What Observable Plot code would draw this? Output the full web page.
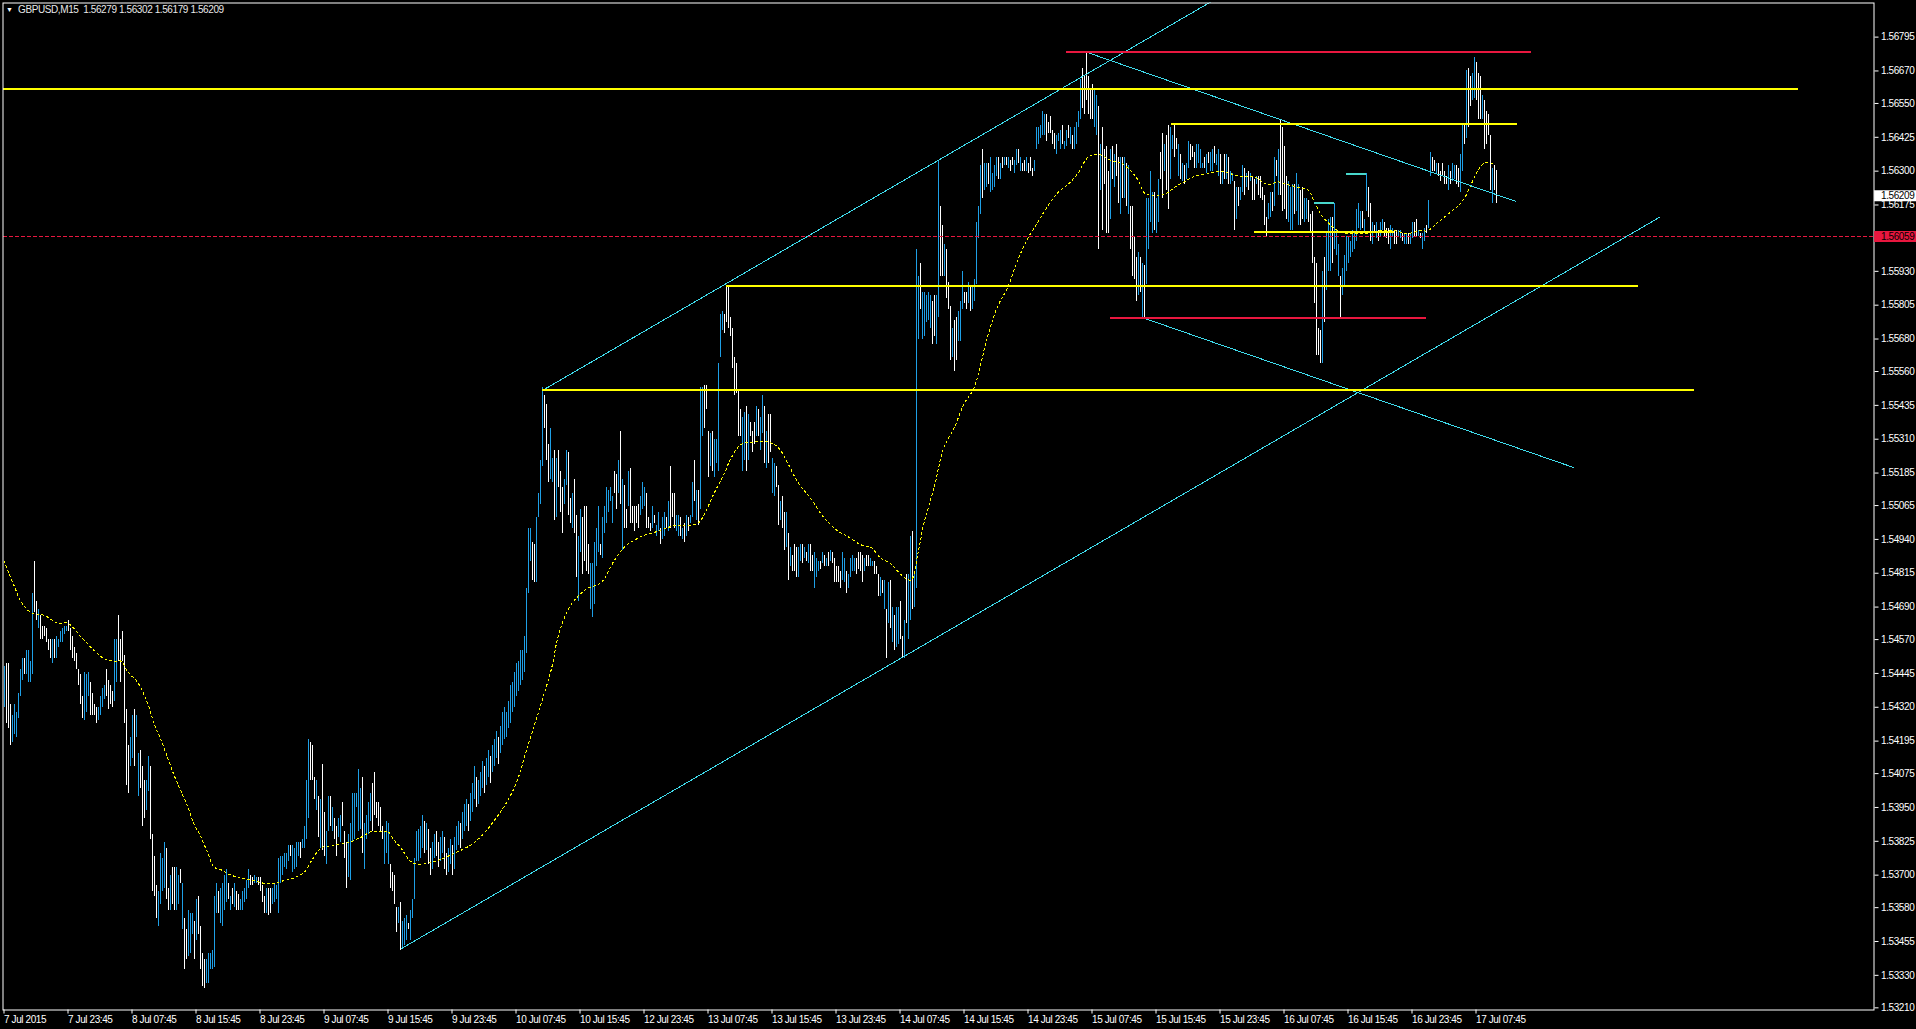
<!DOCTYPE html>
<html><head><meta charset="utf-8">
<script src="https://cdn.jsdelivr.net/npm/d3@7"></script>
<script src="https://cdn.jsdelivr.net/npm/@observablehq/plot@0.6"></script>
<style>
html,body{margin:0;padding:0;background:#000;overflow:hidden;}
#chart svg text{letter-spacing:-0.4px;}
</style></head><body><div id="chart"></div>
<script>
// ---- data (GBPUSD M15, bar index 0 = 7 Jul 2015 15:45) ----
const symbol = "GBPUSD,M15";
const lastOHLC = [1.56279, 1.56302, 1.56179, 1.56209];
const markLevel = 1.56059;

const highs = [
1.5447,1.5448,1.5448,1.5433,1.5429,1.5433,1.5430,1.5437,1.5446,1.5450,
1.5450,1.5453,1.5453,1.5449,1.5474,1.5486,1.5471,1.5468,1.5466,1.5462,
1.5462,1.5461,1.5457,1.5457,1.5457,1.5457,1.5458,1.5457,1.5460,1.5461,
1.5462,1.5462,1.5464,1.5461,1.5458,1.5454,1.5452,1.5446,1.5444,1.5436,
1.5445,1.5444,1.5445,1.5441,1.5437,1.5433,1.5432,1.5432,1.5436,1.5439,
1.5440,1.5446,1.5442,1.5440,1.5438,1.5457,1.5457,1.5466,1.5457,1.5460,
1.5451,1.5431,1.5418,1.5421,1.5429,1.5431,1.5429,1.5415,1.5416,1.5410,
1.5405,1.5405,1.5414,1.5410,1.5385,1.5377,1.5366,1.5364,1.5378,1.5376,
1.5382,1.5380,1.5365,1.5370,1.5373,1.5373,1.5373,1.5370,1.5372,1.5367,
1.5354,1.5350,1.5357,1.5356,1.5356,1.5353,1.5361,1.5362,1.5351,1.5341,
1.5339,1.5339,1.5341,1.5341,1.5342,1.5362,1.5367,1.5364,1.5365,1.5367,
1.5370,1.5372,1.5367,1.5362,1.5365,1.5367,1.5364,1.5363,1.5361,1.5364,
1.5365,1.5368,1.5372,1.5370,1.5369,1.5370,1.5369,1.5369,1.5369,1.5366,
1.5362,1.5365,1.5365,1.5365,1.5365,1.5367,1.5366,1.5376,1.5377,1.5377,
1.5378,1.5378,1.5381,1.5381,1.5381,1.5380,1.5382,1.5382,1.5382,1.5383,
1.5388,1.5405,1.5420,1.5419,1.5418,1.5406,1.5405,1.5399,1.5398,1.5411,
1.5393,1.5386,1.5399,1.5399,1.5395,1.5391,1.5388,1.5391,1.5392,1.5397,
1.5386,1.5382,1.5385,1.5389,1.5400,1.5400,1.5400,1.5409,1.5402,1.5406,
1.5389,1.5392,1.5397,1.5400,1.5404,1.5408,1.5397,1.5397,1.5395,1.5388,
1.5386,1.5390,1.5389,1.5374,1.5371,1.5370,1.5358,1.5358,1.5360,1.5353,
1.5354,1.5355,1.5352,1.5357,1.5361,1.5376,1.5386,1.5387,1.5388,1.5392,
1.5390,1.5389,1.5387,1.5380,1.5382,1.5385,1.5386,1.5382,1.5384,1.5386,
1.5384,1.5378,1.5380,1.5383,1.5381,1.5384,1.5388,1.5390,1.5389,1.5393,
1.5396,1.5398,1.5396,1.5400,1.5404,1.5410,1.5406,1.5405,1.5408,1.5412,
1.5410,1.5413,1.5416,1.5414,1.5418,1.5420,1.5423,1.5421,1.5425,1.5430,
1.5432,1.5430,1.5434,1.5440,1.5441,1.5445,1.5448,1.5449,1.5453,1.5453,
1.5458,1.5476,1.5498,1.5498,1.5493,1.5492,1.5502,1.5511,1.5523,1.5550,
1.5547,1.5544,1.5529,1.5535,1.5524,1.5527,1.5524,1.5527,1.5519,1.5513,
1.5516,1.5527,1.5526,1.5509,1.5511,1.5516,1.5503,1.5495,1.5505,1.5502,
1.5506,1.5506,1.5492,1.5485,1.5485,1.5493,1.5498,1.5506,1.5492,1.5502,
1.5506,1.5513,1.5512,1.5513,1.5510,1.5519,1.5518,1.5523,1.5534,1.5516,
1.5514,1.5505,1.5519,1.5520,1.5506,1.5506,1.5506,1.5507,1.5510,1.5515,
1.5513,1.5511,1.5502,1.5500,1.5506,1.5503,1.5499,1.5504,1.5498,1.5502,
1.5504,1.5502,1.5508,1.5521,1.5511,1.5511,1.5503,1.5503,1.5502,1.5498,
1.5500,1.5503,1.5502,1.5503,1.5515,1.5523,1.5512,1.5512,1.5550,1.5550,
1.5551,1.5551,1.5534,1.5533,1.5534,1.5531,1.5531,1.5559,1.5577,1.5578,
1.5577,1.5587,1.5587,1.5576,1.5572,1.5561,1.5559,1.5549,1.5542,1.5539,
1.5541,1.5543,1.5540,1.5537,1.5534,1.5537,1.5543,1.5542,1.5539,1.5547,
1.5543,1.5534,1.5540,1.5540,1.5524,1.5522,1.5521,1.5514,1.5508,1.5510,
1.5504,1.5504,1.5496,1.5491,1.5488,1.5492,1.5491,1.5491,1.5492,1.5492,
1.5491,1.5489,1.5492,1.5492,1.5488,1.5489,1.5487,1.5486,1.5486,1.5489,
1.5488,1.5487,1.5489,1.5490,1.5489,1.5487,1.5484,1.5484,1.5482,1.5489,
1.5487,1.5482,1.5481,1.5487,1.5488,1.5487,1.5487,1.5489,1.5489,1.5488,
1.5487,1.5488,1.5488,1.5487,1.5486,1.5486,1.5484,1.5481,1.5480,1.5479,
1.5479,1.5468,1.5478,1.5479,1.5469,1.5466,1.5469,1.5469,1.5471,1.5458,
1.5464,1.5481,1.5481,1.5495,1.5497,1.5482,1.5601,1.5591,1.5596,1.5585,
1.5585,1.5584,1.5585,1.5584,1.5582,1.5584,1.5584,1.5634,1.5617,1.5610,
1.5603,1.5601,1.5589,1.5580,1.5572,1.5575,1.5576,1.5578,1.5582,1.5593,
1.5585,1.5585,1.5589,1.5587,1.5587,1.5590,1.5611,1.5617,1.5632,1.5638,
1.5633,1.5633,1.5633,1.5635,1.5629,1.5632,1.5635,1.5635,1.5633,1.5635,
1.5635,1.5635,1.5635,1.5634,1.5635,1.5634,1.5638,1.5638,1.5635,1.5633,
1.5634,1.5635,1.5633,1.5635,1.5631,1.5634,1.5646,1.5646,1.5647,1.5652,
1.5651,1.5651,1.5648,1.5650,1.5645,1.5644,1.5643,1.5644,1.5645,1.5647,
1.5641,1.5645,1.5647,1.5646,1.5643,1.5646,1.5648,1.5652,1.5664,1.5668,
1.5665,1.5674,1.5665,1.5660,1.5662,1.5660,1.5658,1.5654,1.5640,1.5646,
1.5638,1.5639,1.5630,1.5638,1.5639,1.5636,1.5640,1.5635,1.5635,1.5635,
1.5635,1.5633,1.5632,1.5617,1.5617,1.5606,1.5598,1.5600,1.5598,1.5596,
1.5595,1.5620,1.5620,1.5630,1.5622,1.5622,1.5620,1.5627,1.5637,1.5644,
1.5640,1.5643,1.5647,1.5646,1.5643,1.5647,1.5642,1.5640,1.5636,1.5633,
1.5632,1.5633,1.5641,1.5640,1.5639,1.5637,1.5640,1.5640,1.5638,1.5633,
1.5635,1.5636,1.5637,1.5637,1.5638,1.5639,1.5636,1.5638,1.5636,1.5630,
1.5636,1.5636,1.5635,1.5630,1.5629,1.5626,1.5624,1.5624,1.5624,1.5632,
1.5631,1.5629,1.5630,1.5629,1.5628,1.5627,1.5628,1.5628,1.5628,1.5624,
1.5621,1.5613,1.5618,1.5622,1.5622,1.5635,1.5634,1.5638,1.5649,1.5646,
1.5639,1.5628,1.5626,1.5624,1.5625,1.5625,1.5629,1.5625,1.5623,1.5624,
1.5620,1.5620,1.5619,1.5614,1.5615,1.5598,1.5596,1.5572,1.5571,1.5593,
1.5598,1.5607,1.5612,1.5613,1.5613,1.5618,1.5608,1.5603,1.5591,1.5594,
1.5599,1.5606,1.5606,1.5604,1.5608,1.5607,1.5616,1.5618,1.5615,1.5615,
1.5612,1.5629,1.5624,1.5618,1.5611,1.5610,1.5611,1.5608,1.5611,1.5612,
1.5611,1.5609,1.5609,1.5610,1.5609,1.5608,1.5608,1.5608,1.5608,1.5607,
1.5607,1.5607,1.5607,1.5607,1.5611,1.5611,1.5612,1.5608,1.5607,1.5607,
1.5609,1.5610,1.5619,1.5637,1.5635,1.5634,1.5633,1.5633,1.5630,1.5633,
1.5630,1.5628,1.5632,1.5630,1.5633,1.5632,1.5632,1.5631,1.5636,1.5647,
1.5647,1.5667,1.5668,1.5665,1.5666,1.5672,1.5670,1.5666,1.5665,1.5658,
1.5656,1.5652,1.5651,1.5643,1.5631,1.5632,1.56302];

const lows = [
1.5432,1.5426,1.5424,1.5418,1.5419,1.5422,1.5421,1.5428,1.5436,1.5442,
1.5444,1.5444,1.5441,1.5441,1.5444,1.5467,1.5464,1.5461,1.5457,1.5457,
1.5458,1.5456,1.5453,1.5450,1.5448,1.5450,1.5450,1.5454,1.5456,1.5456,
1.5459,1.5460,1.5460,1.5453,1.5450,1.5449,1.5446,1.5440,1.5433,1.5428,
1.5427,1.5430,1.5436,1.5429,1.5429,1.5429,1.5426,1.5427,1.5429,1.5432,
1.5435,1.5436,1.5431,1.5433,1.5432,1.5434,1.5441,1.5449,1.5441,1.5449,
1.5426,1.5403,1.5400,1.5410,1.5413,1.5410,1.5421,1.5399,1.5402,1.5388,
1.5391,1.5394,1.5401,1.5383,1.5364,1.5362,1.5354,1.5351,1.5359,1.5364,
1.5365,1.5361,1.5357,1.5357,1.5359,1.5357,1.5357,1.5359,1.5367,1.5350,
1.5335,1.5339,1.5340,1.5341,1.5348,1.5339,1.5346,1.5348,1.5335,1.5329,
1.5328,1.5330,1.5330,1.5335,1.5335,1.5336,1.5356,1.5356,1.5352,1.5351,
1.5357,1.5360,1.5361,1.5357,1.5359,1.5358,1.5357,1.5357,1.5357,1.5357,
1.5360,1.5361,1.5365,1.5366,1.5366,1.5367,1.5367,1.5366,1.5364,1.5360,
1.5356,1.5356,1.5355,1.5356,1.5359,1.5360,1.5361,1.5356,1.5367,1.5370,
1.5373,1.5372,1.5375,1.5377,1.5371,1.5372,1.5373,1.5377,1.5376,1.5380,
1.5380,1.5383,1.5391,1.5405,1.5405,1.5398,1.5394,1.5384,1.5380,1.5379,
1.5377,1.5374,1.5386,1.5388,1.5386,1.5383,1.5377,1.5384,1.5382,1.5388,
1.5376,1.5365,1.5369,1.5368,1.5382,1.5383,1.5395,1.5386,1.5387,1.5378,
1.5372,1.5383,1.5385,1.5390,1.5386,1.5392,1.5391,1.5388,1.5386,1.5383,
1.5374,1.5378,1.5374,1.5365,1.5364,1.5359,1.5349,1.5352,1.5342,1.5343,
1.5344,1.5346,1.5350,1.5346,1.5354,1.5361,1.5375,1.5375,1.5376,1.5380,
1.5378,1.5379,1.5374,1.5370,1.5372,1.5376,1.5377,1.5373,1.5375,1.5378,
1.5372,1.5370,1.5371,1.5374,1.5370,1.5372,1.5379,1.5381,1.5380,1.5383,
1.5386,1.5388,1.5386,1.5390,1.5393,1.5398,1.5395,1.5396,1.5399,1.5402,
1.5400,1.5403,1.5406,1.5404,1.5408,1.5410,1.5413,1.5411,1.5415,1.5418,
1.5420,1.5421,1.5424,1.5426,1.5430,1.5432,1.5436,1.5438,1.5440,1.5442,
1.5445,1.5452,1.5474,1.5486,1.5479,1.5478,1.5478,1.5502,1.5507,1.5521,
1.5535,1.5523,1.5515,1.5516,1.5515,1.5501,1.5502,1.5513,1.5504,1.5496,
1.5507,1.5514,1.5503,1.5500,1.5498,1.5496,1.5480,1.5471,1.5489,1.5481,
1.5486,1.5482,1.5481,1.5468,1.5465,1.5470,1.5484,1.5489,1.5488,1.5487,
1.5496,1.5500,1.5504,1.5508,1.5500,1.5511,1.5505,1.5511,1.5507,1.5490,
1.5498,1.5498,1.5506,1.5500,1.5500,1.5497,1.5500,1.5498,1.5503,1.5505,
1.5506,1.5498,1.5498,1.5497,1.5498,1.5500,1.5495,1.5497,1.5492,1.5494,
1.5495,1.5498,1.5497,1.5498,1.5502,1.5498,1.5497,1.5495,1.5495,1.5494,
1.5493,1.5495,1.5497,1.5500,1.5502,1.5508,1.5501,1.5499,1.5505,1.5532,
1.5535,1.5542,1.5517,1.5521,1.5519,1.5517,1.5522,1.5519,1.5561,1.5571,
1.5570,1.5574,1.5572,1.5569,1.5557,1.5547,1.5548,1.5532,1.5532,1.5519,
1.5523,1.5519,1.5523,1.5532,1.5526,1.5529,1.5532,1.5532,1.5527,1.5533,
1.5522,1.5520,1.5522,1.5526,1.5511,1.5510,1.5513,1.5499,1.5501,1.5498,
1.5490,1.5491,1.5479,1.5484,1.5482,1.5482,1.5480,1.5480,1.5486,1.5485,
1.5487,1.5486,1.5485,1.5482,1.5482,1.5476,1.5480,1.5482,1.5483,1.5485,
1.5484,1.5484,1.5484,1.5486,1.5485,1.5478,1.5478,1.5478,1.5476,1.5479,
1.5478,1.5474,1.5476,1.5480,1.5482,1.5482,1.5481,1.5483,1.5482,1.5478,
1.5482,1.5484,1.5484,1.5484,1.5484,1.5481,1.5481,1.5473,1.5473,1.5474,
1.5468,1.5450,1.5463,1.5461,1.5456,1.5453,1.5454,1.5455,1.5457,1.5450,
1.5450,1.5463,1.5457,1.5464,1.5468,1.5469,1.5476,1.5568,1.5579,1.5568,
1.5569,1.5574,1.5575,1.5572,1.5566,1.5569,1.5566,1.5576,1.5591,1.5591,
1.5591,1.5583,1.5579,1.5560,1.5561,1.5556,1.5560,1.5567,1.5567,1.5579,
1.5581,1.5579,1.5581,1.5578,1.5579,1.5582,1.5588,1.5605,1.5614,1.5620,
1.5623,1.5624,1.5625,1.5622,1.5623,1.5624,1.5628,1.5627,1.5627,1.5631,
1.5632,1.5632,1.5631,1.5630,1.5632,1.5629,1.5632,1.5633,1.5630,1.5630,
1.5630,1.5630,1.5629,1.5630,1.5628,1.5630,1.5638,1.5640,1.5642,1.5643,
1.5643,1.5641,1.5644,1.5644,1.5640,1.5638,1.5636,1.5641,1.5638,1.5640,
1.5638,1.5639,1.5642,1.5640,1.5638,1.5638,1.5640,1.5646,1.5649,1.5653,
1.5651,1.5656,1.5651,1.5649,1.5649,1.5646,1.5643,1.5601,1.5623,1.5608,
1.5625,1.5607,1.5607,1.5612,1.5627,1.5624,1.5628,1.5618,1.5614,1.5620,
1.5620,1.5617,1.5614,1.5601,1.5591,1.5590,1.5582,1.5584,1.5585,1.5576,
1.5576,1.5588,1.5601,1.5611,1.5607,1.5608,1.5607,1.5611,1.5627,1.5620,
1.5630,1.5623,1.5616,1.5627,1.5638,1.5635,1.5638,1.5628,1.5627,1.5626,
1.5625,1.5627,1.5631,1.5634,1.5635,1.5631,1.5631,1.5633,1.5631,1.5631,
1.5631,1.5629,1.5633,1.5630,1.5630,1.5633,1.5632,1.5628,1.5625,1.5625,
1.5627,1.5627,1.5625,1.5625,1.5626,1.5608,1.5612,1.5617,1.5619,1.5622,
1.5621,1.5624,1.5623,1.5626,1.5619,1.5619,1.5625,1.5621,1.5620,1.5619,
1.5610,1.5606,1.5612,1.5613,1.5615,1.5617,1.5628,1.5621,1.5621,1.5615,
1.5616,1.5612,1.5611,1.5608,1.5608,1.5614,1.5615,1.5610,1.5610,1.5612,
1.5611,1.5612,1.5611,1.5607,1.5596,1.5581,1.5562,1.5562,1.5559,1.5559,
1.5574,1.5586,1.5593,1.5593,1.5596,1.5601,1.5599,1.5591,1.5576,1.5584,
1.5587,1.5593,1.5596,1.5598,1.5600,1.5601,1.5604,1.5609,1.5608,1.5609,
1.5607,1.5615,1.5613,1.5604,1.5603,1.5607,1.5605,1.5604,1.5606,1.5608,
1.5606,1.5605,1.5603,1.5601,1.5606,1.5603,1.5603,1.5606,1.5605,1.5604,
1.5603,1.5603,1.5603,1.5603,1.5605,1.5606,1.5606,1.5606,1.5605,1.5601,
1.5604,1.5607,1.5609,1.5628,1.5630,1.5630,1.5629,1.5628,1.5626,1.5628,
1.5625,1.5625,1.5623,1.5625,1.5626,1.5627,1.5625,1.5624,1.5622,1.5630,
1.5640,1.5642,1.5646,1.5654,1.5656,1.5657,1.5656,1.5649,1.5649,1.5649,
1.5638,1.5640,1.5643,1.5623,1.5618,1.5623,1.56179];

// u = bullish bar (blue), d = bearish bar (white)
const dirs = [
"uddduuuuuu","duuuuddudd","dddduduuuu","uudddddddd","uuudddduuu",
"udddduuddd","ddduuduudd","duudddduuu","uddudduudu","dduuududdd",
"duuuuuuduu","uudududduu","uuudduuddd","dudduuuuuu","uuuduuuudu",
"uuudddudud","duududduud","dduuuuuuud","uuuudddddd","uuuddddudu",
"uuduuuuuuu","dudduudduu","dduuduuudu","uuduuuduuu","duuduuuduu",
"uuuuuuuuuu","uuuudduuuu","ddduududdd","uuddudduud","ddduuuuudu",
"uuuuuddudu","dduddddduu","uddduduudu","ududdduudu","duduududuu",
"ddduduuuuu","dddddddddu","ududdduduu","dudduuddud","dududdduud",
"ududduuudu","dududddddu","uduuuudddd","udduudddud","udududuudd",
"uduuduuudu","uuuudduudd","udddudduuu","dduduuuuud","uuduuuudud",
"ududduudud","duddduuuuu","uddddduuud","uududuuuud","ddddduudud",
"dddududdud","ududdddudu","duuuuduudd","udduuddudu","duuddduuuu",
"duduuduudu","duduududuu","dududduddd","dduudududd","dduuuduudd",
"uudddddddu","duuuduuudu","uuuuuuuuud","uuddududuu","ddduudduud",
"uuduuddudu","uduudduddd","dduduudduu","dudduudddu","ddddudd"].join("");

// moving average (yellow dotted) read at intervals: bar index, price
const maBar = [0,5,8.5,13.5,20,27,32,38.5,45,50,55,58.5,62,67,72,75,78.5,82,85,88.5,92,95,98.5,102,105,108.5,113.5,118.5,125,130,135,140,145,150,153.5,158.5,165,172,178.5,183.5,188.5,192,195,198.5,203.5,207,215,225,235,245,255,262,268,274,277,282,287,292,298.5,305,310,318.5,327,335,342,347,350,355,360,363.5,368.5,375,382,387,392,397,403.5,410,417,422,428.5,433.5,438.5,443.5,448.5,453.5,457,460,465,470,475,480,485,491.8,496.8,501.8,506.8,511.8,516.8,521.8,526.8,531.8,536.8,541.8,545.2,548.5,553.5,558.5,563.5,566.8,570.2,573.5,576.8,581.8,585.2,590,595,602,608.5,613.5,618.5,625,632,637,642,647,652,655,658.5,662,667,672,677,682,688.5,695,701.8,708.5,711.8,716.8,721.8,726.8,730.2,733.5,736.8,740.2,743.5,746];
const maPrice = [1.5486,1.5477,1.5471,1.5467,1.5466,1.5463,1.5463,1.5458,1.5453,1.5450,1.5449,1.5449,1.5445,1.5441,1.5433,1.5426,1.5420,1.5413,1.5407,1.5401,1.5395,1.5389,1.5384,1.5378,1.5373,1.5372,1.5370,1.5369,1.5368,1.5367,1.5367,1.5368,1.5369,1.5371,1.5375,1.5380,1.5381,1.5382,1.5384,1.5386,1.5386,1.5386,1.5383,1.5380,1.5375,1.5374,1.5375,1.5378,1.5382,1.5390,1.5402,1.5418,1.5432,1.5447,1.5458,1.5468,1.5473,1.5476,1.5478,1.5486,1.5491,1.5495,1.5497,1.5499,1.5499,1.5500,1.5503,1.5511,1.5518,1.5524,1.5529,1.5530,1.5530,1.5528,1.5522,1.5515,1.5509,1.5502,1.5497,1.5495,1.5492,1.5491,1.5487,1.5485,1.5481,1.5479,1.5489,1.5500,1.5513,1.5528,1.5535,1.5544,1.5550,1.5569,1.5580,1.5587,1.5597,1.5605,1.5611,1.5617,1.5622,1.5625,1.5629,1.5635,1.5636,1.5636,1.5634,1.5633,1.5630,1.5627,1.5622,1.5621,1.5621,1.5622,1.5624,1.5626,1.5628,1.5629,1.5630,1.5629,1.5628,1.5628,1.5625,1.5626,1.5625,1.5624,1.5623,1.5619,1.5614,1.5611,1.5608,1.5607,1.5607,1.5607,1.5608,1.5608,1.5607,1.5608,1.5608,1.5611,1.5614,1.5617,1.5620,1.5625,1.5630,1.5633,1.5633,1.5633];

// horizontal line objects
const levelPrice = [1.56605, 1.56741, 1.56475, 1.56077, 1.55874, 1.55757, 1.55490];
const levelFrom  = [-0.5, 531.3, 583.5, 625.2, 361.3, 553.2, 269.2];
const levelTo    = [897, 763.5, 756.5, 695.2, 817, 711.3, 845.3];
const levelKind  = ["yellow","red","yellow","yellow","yellow","red","yellow"];

// trend line objects (cyan)
const trendFromBar   = [269.2, 198.3, 541, 570];
const trendFromPrice = [1.55490, 1.53427, 1.56740, 1.55757];
const trendToBar     = [605, 828.1, 756, 785];
const trendToPrice   = [1.56932, 1.56131, 1.56188, 1.55205];

// short turquoise marks
const markFrom  = [655, 671.3];
const markTo    = [665.2, 681.2];
const markPrice = [1.56182, 1.56288];

const yTicks = [1.53210,1.53330,1.53455,1.53580,1.53700,1.53825,1.53950,1.54075,1.54195,1.54320,1.54445,1.54570,1.54690,1.54815,1.54940,1.55065,1.55185,1.55310,1.55435,1.55560,1.55680,1.55805,1.55930,1.56175,1.56300,1.56425,1.56550,1.56670,1.56795];
const dateLabels = ["7 Jul 2015","7 Jul 23:45","8 Jul 07:45","8 Jul 15:45","8 Jul 23:45","9 Jul 07:45","9 Jul 15:45","9 Jul 23:45","10 Jul 07:45","10 Jul 15:45","12 Jul 23:45","13 Jul 07:45","13 Jul 15:45","13 Jul 23:45","14 Jul 07:45","14 Jul 15:45","14 Jul 23:45","15 Jul 07:45","15 Jul 15:45","15 Jul 23:45","16 Jul 07:45","16 Jul 15:45","16 Jul 23:45","17 Jul 07:45"];
const barsPerLabel = 32;

// ---- build ----
if (highs.length !== lows.length || highs.length !== dirs.length) {
  throw new Error("length mismatch " + highs.length + " " + lows.length + " " + dirs.length);
}
const bars = highs.map((h, i) => ({bar: i, high: h, low: lows[i], up: dirs[i] === "u"}));
const ma = maBar.map((b, k) => ({bar: b, price: maPrice[k]}));
const levels = levelPrice.map((p, k) => ({price: p, from: levelFrom[k], to: levelTo[k], kind: levelKind[k]}));
const trends = trendFromBar.map((b, k) => ({b1: b, p1: trendFromPrice[k], b2: trendToBar[k], p2: trendToPrice[k]}));
const marks = markPrice.map((p, k) => ({price: p, from: markFrom[k], to: markTo[k]}));
const xTicks = dateLabels.map((_, k) => k * barsPerLabel);

const UP = "#1e9fe6", DOWN = "#ffffff", YEL = "#ffff00", RED = "#e8173f", CYAN = "#3fdcec", TURQ = "#48d8cc";
const xEnd = 935, boxEnd = 957;

const chart = Plot.plot({
  width: 1916, height: 1029,
  marginLeft: 2.5, marginRight: 42.5, marginTop: 2.5, marginBottom: 19.5,
  style: {background: "#000", color: "#fff", fontFamily: "'Liberation Sans', Arial, sans-serif", fontSize: "10px"},
  x: {type: "linear", domain: [-0.5, xEnd]},
  y: {type: "linear", domain: [1.53202, 1.56921]},
  marks: [
    Plot.ruleX(bars.filter(d => !d.up), {x: "bar", y1: "low", y2: "high", stroke: DOWN, strokeWidth: 1, shapeRendering: "crispEdges"}),
    Plot.ruleX(bars.filter(d => d.up), {x: "bar", y1: "low", y2: "high", stroke: UP, strokeWidth: 1, shapeRendering: "crispEdges"}),
    Plot.line(ma, {x: "bar", y: "price", stroke: YEL, strokeWidth: 1, strokeDasharray: "2,3", curve: "catmull-rom", shapeRendering: "crispEdges"}),
    Plot.ruleY([markLevel], {stroke: RED, strokeWidth: 1, strokeDasharray: "4,2", shapeRendering: "crispEdges"}),
    Plot.link(trends, {x1: "b1", y1: "p1", x2: "b2", y2: "p2", stroke: CYAN, strokeWidth: 1, clip: true, shapeRendering: "crispEdges"}),
    Plot.ruleY(levels, {y: "price", x1: "from", x2: "to", stroke: d => d.kind === "red" ? RED : YEL, strokeWidth: 2, shapeRendering: "crispEdges"}),
    Plot.ruleY(marks, {y: "price", x1: "from", x2: "to", stroke: TURQ, strokeWidth: 2, shapeRendering: "crispEdges"}),
    Plot.frame({stroke: "#fff", strokeWidth: 1}),
    Plot.axisY({anchor: "right", ticks: yTicks, tickFormat: d => d.toFixed(5), tickSize: 4, tickPadding: 3, fontSize: 10, fill: "#fff", stroke: "#fff", label: null}),
    Plot.axisX({anchor: "bottom", ticks: xTicks, tickFormat: d => dateLabels[Math.round(d / barsPerLabel)], tickSize: 4, tickPadding: 2, textAnchor: "start", fontSize: 10, fill: "#fff", stroke: "#fff", label: null}),
    // price boxes on the right scale
    Plot.ruleY([markLevel], {x1: xEnd + 0.3, x2: boxEnd, stroke: RED, strokeWidth: 11}),
    Plot.text([markLevel], {x: xEnd, y: d => d, text: d => d.toFixed(5), dx: 7, textAnchor: "start", fill: "#000", fontSize: 10}),
    Plot.ruleY([lastOHLC[3]], {x1: xEnd + 0.3, x2: boxEnd, stroke: "#fff", strokeWidth: 11}),
    Plot.text([lastOHLC[3]], {x: xEnd, y: d => d, text: d => d.toFixed(5), dx: 7, textAnchor: "start", fill: "#000", fontSize: 10}),
    // header
    Plot.text(["\u25BC"], {frameAnchor: "top-left", dx: 3, dy: 4.5, textAnchor: "start", fill: "#fff", fontSize: 7}),
    Plot.text([symbol + "\u00a0\u00a0" + lastOHLC.map(v => v.toFixed(5)).join(" ")], {frameAnchor: "top-left", dx: 15, dy: 2.5, textAnchor: "start", fill: "#e8e8e8", fontSize: 10})
  ]
});
document.getElementById("chart").appendChild(chart);
</script></body></html>
